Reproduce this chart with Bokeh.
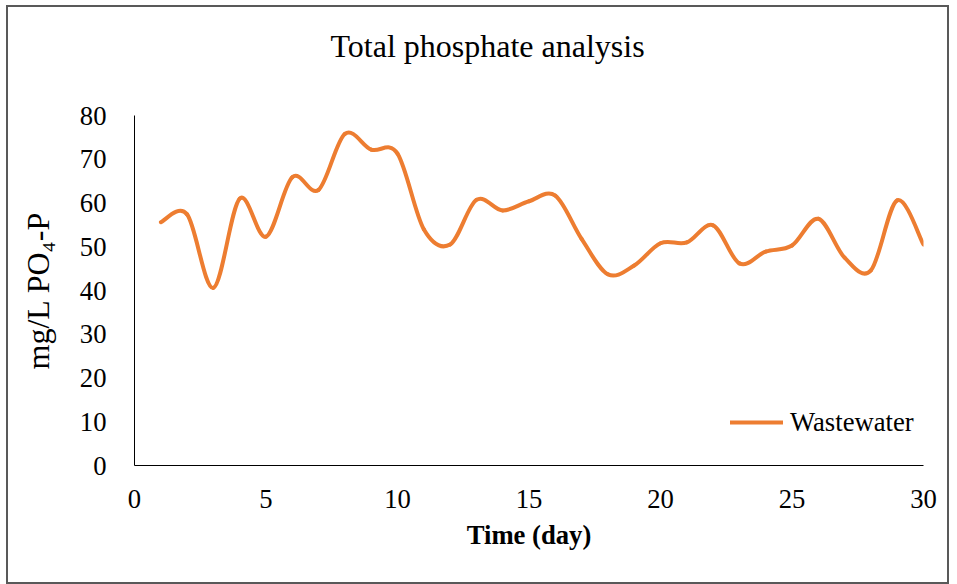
from bokeh.plotting import figure
from bokeh.embed import file_html
from bokeh.resources import INLINE
from bokeh.models import ColumnDataSource, Range1d, FixedTicker, Legend, LegendItem

days = list(range(1, 31))
wastewater = [55.6, 57.4, 40.6, 61.0, 52.3, 65.9, 63.0, 75.8, 72.2, 71.3,
              54.0, 50.5, 60.7, 58.3, 60.4, 61.7, 51.8, 43.7, 45.7, 50.8,
              51.0, 54.9, 46.2, 48.9, 50.3, 56.4, 47.5, 44.6, 60.6, 50.5]
x_ticks = [0, 5, 10, 15, 20, 25, 30]
y_ticks = [0, 10, 20, 30, 40, 50, 60, 70, 80]
title_text = "Total phosphate analysis"

FONT = "Liberation Serif"
ORANGE = "#ED7D31"

# Excel-style smoothing: cubic Bezier segments with Catmull-Rom control points
n = len(days)
x0, y0, x1, y1, cx0, cy0, cx1, cy1 = ([] for _ in range(8))
for i in range(n - 1):
    pm = max(i - 1, 0)
    pp = min(i + 2, n - 1)
    x0.append(days[i]); y0.append(wastewater[i])
    x1.append(days[i + 1]); y1.append(wastewater[i + 1])
    cx0.append(days[i] + (days[i + 1] - days[pm]) / 6.0)
    cy0.append(wastewater[i] + (wastewater[i + 1] - wastewater[pm]) / 6.0)
    cx1.append(days[i + 1] - (days[pp] - days[i]) / 6.0)
    cy1.append(wastewater[i + 1] - (wastewater[pp] - wastewater[i]) / 6.0)

src = ColumnDataSource(dict(x0=x0, y0=y0, x1=x1, y1=y1, cx0=cx0, cy0=cy0, cx1=cx1, cy1=cy1))

p = figure(width=943, height=579, output_backend="svg", toolbar_location=None,
           x_range=Range1d(0, 30), y_range=Range1d(0, 80),
           min_border_left=126, min_border_right=28, min_border_top=108, min_border_bottom=121,
           title=title_text + "\n\u00a0")
p.styles = {"border": "2px solid #595959", "margin-left": "6px", "margin-top": "5px"}

p.title.text_font = FONT
p.title.text_font_size = "32px"
p.title.text_font_style = "normal"
p.title.align = "left"
p.title.offset = 196
p.title.text_color = "black"
p.title.standoff = 32

p.outline_line_color = None
p.grid.visible = False

for ax in (p.xaxis[0], p.yaxis[0]):
    ax.major_tick_line_color = None
    ax.minor_tick_line_color = None
    ax.axis_line_color = "black"
    ax.axis_line_width = 1
    ax.major_label_text_font = FONT
    ax.major_label_text_font_size = "26.67px"
    ax.major_label_text_color = "black"
    ax.axis_label_text_font = FONT
    ax.axis_label_text_color = "black"

p.xaxis.ticker = FixedTicker(ticks=x_ticks)
p.yaxis.ticker = FixedTicker(ticks=y_ticks)
p.xaxis.major_label_standoff = 18
p.yaxis.major_label_standoff = 22
p.xaxis.axis_label = "Time (day)"
p.xaxis.axis_label_text_font_style = "bold"
p.xaxis.axis_label_text_font_size = "26.67px"
p.xaxis.axis_label_standoff = 9
p.yaxis.axis_label = "mg/L PO\u2084-P"
p.yaxis.axis_label_text_font_style = "normal"
p.yaxis.axis_label_text_font_size = "32px"
p.yaxis.axis_label_standoff = 21

r = p.bezier(x0="x0", y0="y0", x1="x1", y1="y1", cx0="cx0", cy0="cy0", cx1="cx1", cy1="cy1",
             source=src, line_color=ORANGE, line_width=4, line_cap="round", line_join="round")

legend = Legend(items=[LegendItem(label="Wastewater", renderers=[r])],
                location=(596, 27), padding=0, margin=0, spacing=0,
                glyph_width=53, glyph_height=32, label_height=32, label_standoff=7,
                background_fill_alpha=0, border_line_color=None,
                label_text_font=FONT, label_text_font_size="26.67px", label_text_color="black")
p.add_layout(legend, "center")

open("out.html", "w").write(file_html(p, INLINE))
